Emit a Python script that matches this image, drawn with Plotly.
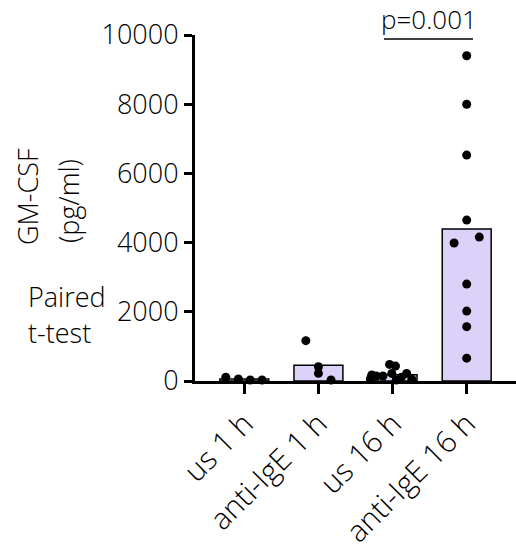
import plotly.graph_objects as go

categories = ["us 1 h", "anti-IgE 1 h", "us 16 h", "anti-IgE 16 h"]
bar_means = [56, 457, 181, 4390]
points = [
    [107, 58, 30, 30],
    [1165, 413, 222, 30],
    [480, 430, 175, 145, 145, 220, 220, 50, 60, 110, 30],
    [9400, 8000, 6530, 4650, 3990, 4160, 2800, 2020, 1570, 660],
]
jitter = [
    [-0.25, -0.08, 0.08, 0.24],
    [-0.17, 0.0, 0.0, 0.17],
    [-0.04, 0.04, -0.28, -0.22, -0.13, -0.01, 0.19, 0.26, -0.3, 0.12, 0.05],
    [0.0, 0.0, 0.0, 0.0, -0.17, 0.17, 0.0, 0.0, 0.0, 0.0],
]
yticks = [0, 2000, 4000, 6000, 8000, 10000]
ytick_labels = ["0", "2000", "4000", "6000", "8000", "10000"]

FONT = "Open Sans"
FS = 27
W, H = 516, 550
L, R, T, B = 195, 0, 35, 169
PW, PH = W - L - R, H - T - B


def px2paper(x, y):
    return (x - L) / PW, (H - B - y) / PH


fig = go.Figure()
xs = list(range(len(categories)))
fig.add_trace(go.Bar(x=xs, y=bar_means, width=0.66,
                     marker=dict(color="#DCD1F8", line=dict(color="black", width=1.5)),
                     showlegend=False))
sx, sy = [], []
for i, (vals, js) in enumerate(zip(points, jitter)):
    for v, j in zip(vals, js):
        sx.append(i + j)
        sy.append(v)
fig.add_trace(go.Scatter(x=sx, y=sy, mode="markers", cliponaxis=False,
                         marker=dict(color="black", size=9), showlegend=False))


def ann(text, x, y, xanchor="center", yanchor="middle", size=FS, angle=0):
    ax, ay = px2paper(x, y)
    return dict(text=text, x=ax, y=ay, xref="paper", yref="paper",
                xanchor=xanchor, yanchor=yanchor, textangle=angle,
                showarrow=False,
                font=dict(family=FONT, size=size, color="black", weight=300))


x0, y0 = px2paper(384, 39)
x1, _ = px2paper(473, 39)

tf = dict(family=FONT, size=FS, color="black", weight=300)
xf = dict(family=FONT, size=30, color="black", weight=300)
fig.update_layout(
    width=W, height=H,
    margin=dict(l=L, r=R, t=T, b=B),
    plot_bgcolor="white", paper_bgcolor="white",
    font=tf,
    xaxis=dict(range=[-0.665, 3.665], tickvals=xs, ticktext=categories,
               tickangle=-45, showline=True, linewidth=3, linecolor="black",
               ticks="outside", ticklen=10, tickwidth=3, tickcolor="black",
               showgrid=False, zeroline=False, tickfont=xf),
    yaxis=dict(range=[0, 10000], tickvals=yticks, ticktext=ytick_labels,
               showline=True, linewidth=3,
               linecolor="black", ticks="outside", ticklen=8, tickwidth=3,
               tickcolor="black", showgrid=False, zeroline=False,
               tickfont=tf, ticklabelstandoff=0),
    annotations=[
        ann("GM-CSF", 27, 197, angle=-90),
        ann("(pg/ml)", 68, 201, angle=-90),
        ann("p=0.001", 429, 19, size=26),
        ann("Paired", 26, 296, xanchor="left"),
        ann("t-test", 26, 332, xanchor="left"),
    ],
    shapes=[dict(type="line", xref="paper", yref="paper", x0=x0, x1=x1, y0=y0, y1=y0,
                 line=dict(color="black", width=1.5))],
)

fig.write_html("out.html")
